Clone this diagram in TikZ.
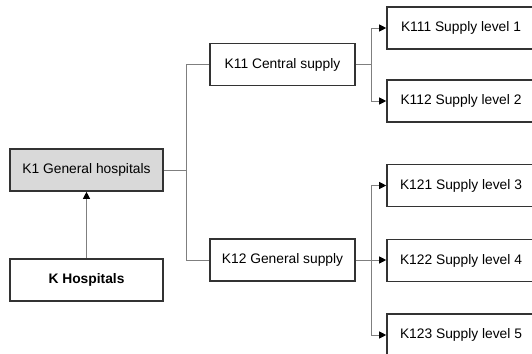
\documentclass[tikz,border=0pt]{standalone}
\usepackage{fontspec}
\setmainfont{Liberation Sans}
\usetikzlibrary{arrows.meta,calc}
\definecolor{boxfill}{HTML}{D9D9D9}
\definecolor{boxline}{HTML}{333333}
\definecolor{linkline}{HTML}{7F7F7F}
\tikzset{
 unit/.style={draw=boxline,line width=1.6pt,fill=white,minimum width=153pt,minimum height=42pt,inner sep=0,font=\fontsize{13.8}{16}\selectfont},
 mainunit/.style={unit,fill=boxfill},
 subunit/.style={unit,minimum width=145pt},
 levelunit/.style={unit,minimum width=148pt},
 link/.style={draw=linkline,line width=.8pt},
 arrowlink/.style={link,-{Triangle[length=7pt,width=7pt,color=black]}}
}
\begin{document}
\begin{tikzpicture}[x=1pt,y=-1pt]
\path[use as bounding box] (0,0) rectangle (532,353);
% boxes
\node[mainunit] (k1) at (86.5,170) {K1 General hospitals};
\node[unit] (k) at (86.5,280) {\bfseries K Hospitals};
\node[subunit] (k11) at (282.5,64.5) {K11 Central supply};
\node[subunit] (k12) at (282.5,260) {K12 General supply};
\node[levelunit] (k111) at (461,28) {K111 Supply level 1};
\node[levelunit] (k112) at (461,101) {K112 Supply level 2};
\node[levelunit] (k121) at (461,185.5) {K121 Supply level 3};
\node[levelunit] (k122) at (461,260.5) {K122 Supply level 4};
\node[levelunit] (k123) at (461,335) {K123 Supply level 5};
% connectors
\draw[arrowlink] (k.north) -- (k1.south);
\coordinate (j1) at ($(k1.east)+(23,0)$);
\draw[link] (k1.east) -- (j1) |- (k11.west);
\draw[link] (j1) |- (k12.west);
\coordinate (j2) at ($(k11.east)+(16,0)$);
\draw[link] (k11.east) -- (j2);
\draw[arrowlink] (j2) |- (k111.west);
\draw[arrowlink] (j2) |- (k112.west);
\coordinate (j3) at ($(k12.east)+(16,0)$);
\draw[arrowlink] (k12.east) -- (k12.east -| k122.west);
\draw[arrowlink] (j3) |- (k121.west);
\draw[arrowlink] (j3) |- (k123.west);
\end{tikzpicture}
\end{document}
